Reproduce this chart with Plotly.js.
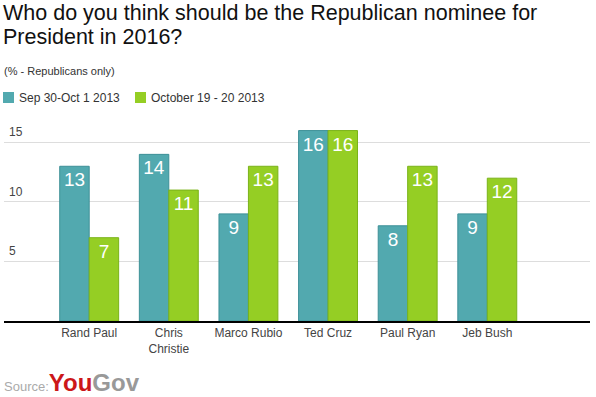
<!DOCTYPE html>
<html><head><meta charset="utf-8">
<script src="https://cdn.plot.ly/plotly-3.0.1.min.js"></script>
<style>html,body{margin:0;padding:0;background:#fff;}#chart{width:596px;height:397px;}</style>
</head><body><div id="chart"></div>
<script>
const categories = ["Rand Paul", "Chris<br>Christie", "Marco Rubio", "Ted Cruz", "Paul Ryan", "Jeb Bush"];
const seriesNames = ["Sep 30-Oct 1 2013", "October 19 - 20 2013"];
const sepValues = [13, 14, 9, 16, 8, 9];
const octValues = [7, 11, 13, 16, 13, 12];
const yTicks = [5, 10, 15];
const titleLines = ["Who do you think should be the Republican nominee for", "President in 2016?"];
const subtitle = "(% - Republicans only)";

const W = 596, H = 397;
const M = {l: 4, r: 6, t: 127, b: 76};
const FONT = "Liberation Sans, Arial, sans-serif";
const pw = W - M.l - M.r, ph = H - M.t - M.b;
const px2x = p => (p - M.l) / pw;
const py2y = p => (H - M.b - p) / ph;
const colors = ["#52A9AF", "#95CE24"];
const borders = ["#3D9097", "#7AB319"];

const traces = [sepValues, octValues].map((vals, i) => ({
  type: "bar", name: seriesNames[i], x: categories, y: vals,
  marker: {color: colors[i], line: {color: borders[i], width: 1}},
  text: vals.map(String), textposition: "inside", insidetextanchor: "end",
  textfont: {color: "#fff", size: 19, family: FONT}, constraintext: "none", hoverinfo: "none"
}));

const annotations = yTicks.map(v => ({
  xref: "paper", yref: "y", x: px2x(7), y: v, xanchor: "left", yanchor: "bottom",
  yshift: 1, text: String(v), showarrow: false, font: {size: 12, color: "#444", family: FONT}
}));
titleLines.forEach((t, i) => annotations.push({
  xref: "paper", yref: "paper", x: px2x(1), y: py2y(13 + i * 23.5), xanchor: "left", yanchor: "middle",
  text: t, showarrow: false, font: {size: 21.5, color: "#111", family: FONT}
}));
annotations.push({
  xref: "paper", yref: "paper", x: px2x(2), y: py2y(71), xanchor: "left", yanchor: "middle",
  text: subtitle, showarrow: false, font: {size: 11, color: "#333", family: FONT}
});
const legX = [3, 135];
const shapes = [];
seriesNames.forEach((n, i) => {
  shapes.push({type: "rect", xref: "paper", yref: "paper",
    x0: px2x(legX[i]), x1: px2x(legX[i] + 11), y0: py2y(103), y1: py2y(92),
    fillcolor: colors[i], line: {width: 0}});
  annotations.push({xref: "paper", yref: "paper", x: px2x(legX[i] + 14), y: py2y(97.5),
    xanchor: "left", yanchor: "middle", text: n, showarrow: false,
    font: {size: 12, color: "#333", family: FONT}});
});
annotations.push({
  xref: "paper", yref: "paper", x: px2x(2), y: py2y(382), xanchor: "left", yanchor: "middle",
  text: "<span style='font-size:13px;color:#aaa'>Source:</span><b><span style='color:#CC1719;font-size:24px'>You</span><span style='color:#999;font-size:24px'>Gov</span></b>",
  showarrow: false, font: {family: FONT, size: 13, color: "#aaa"}
});

const layout = {
  width: W, height: H, margin: M, paper_bgcolor: "#fff", plot_bgcolor: "#fff",
  barmode: "group", bargap: 0.26, bargroupgap: 0,
  showlegend: false,
  xaxis: {range: [-1.07, 6.29], showline: true, linecolor: "#000", linewidth: 1.5,
    showgrid: false, ticks: "", tickfont: {size: 12, color: "#444", family: FONT}, fixedrange: true},
  yaxis: {range: [0, 16.3], tickvals: yTicks, showticklabels: false, showgrid: true,
    gridcolor: "#ddd", gridwidth: 1, zeroline: false, showline: false, fixedrange: true},
  annotations: annotations, shapes: shapes
};

Plotly.newPlot("chart", traces, layout, {displayModeBar: false, staticPlot: true});
</script></body></html>
